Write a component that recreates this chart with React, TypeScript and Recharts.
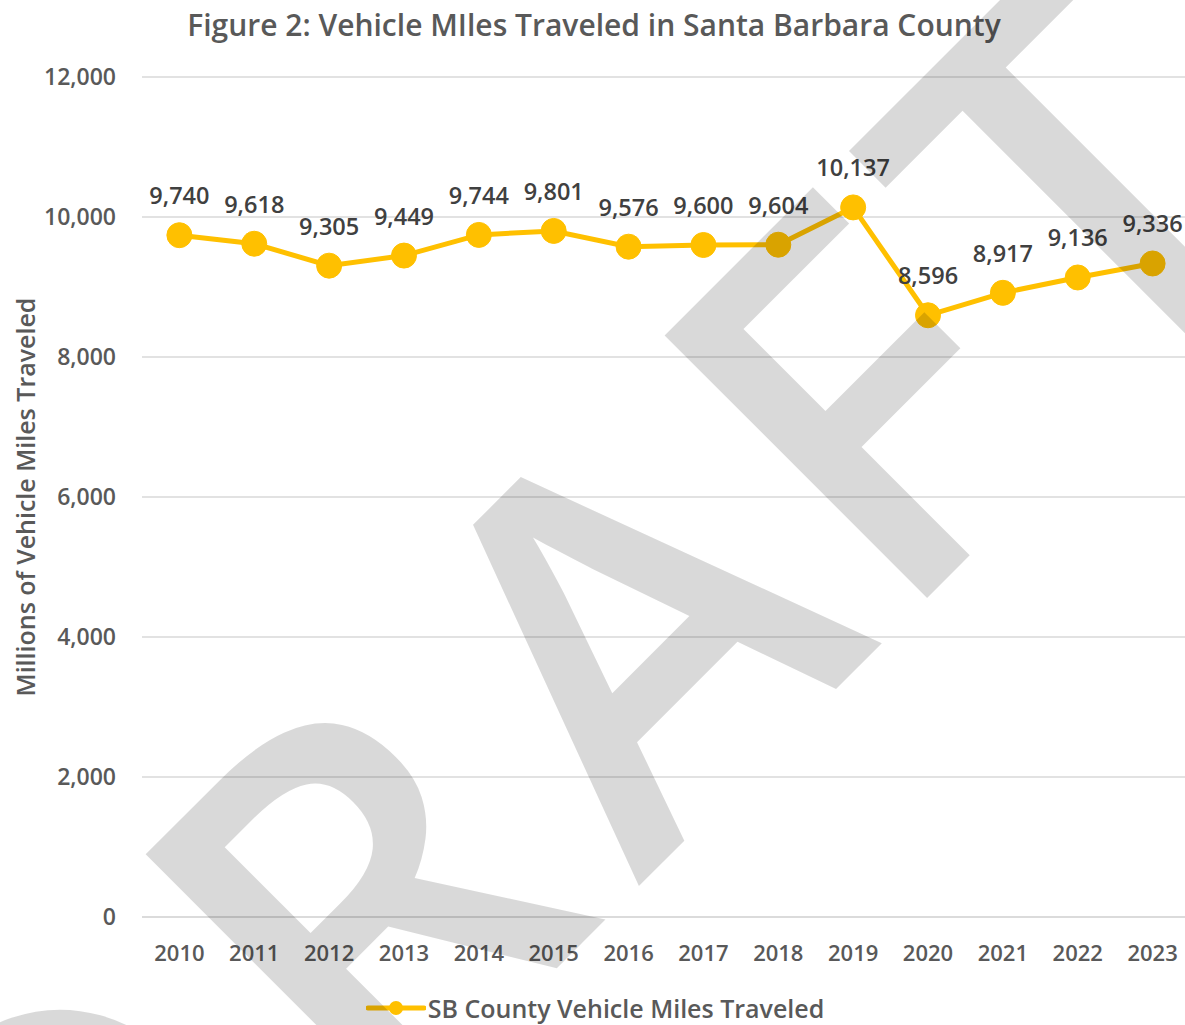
import React from "react";
import {
  CartesianGrid,
  LabelList,
  Legend,
  Line,
  LineChart,
  XAxis,
  YAxis
} from "recharts";

// Annual VMT, millions of miles
const years = ["2010", "2011", "2012", "2013", "2014", "2015", "2016", "2017", "2018", "2019", "2020", "2021", "2022", "2023"];
const vmt = [9740, 9618, 9305, 9449, 9744, 9801, 9576, 9600, 9604, 10137, 8596, 8917, 9136, 9336];
const yTicks = [0, 2000, 4000, 6000, 8000, 10000, 12000];

const FONT = "'Open Sans', 'Noto Sans', sans-serif";
const GOLD = "#FFC000";
const TEXT_GRAY = "#595959";

const data = years.map((year, i) => ({ year, vmt: vmt[i] }));

const fmt = (v: number) => v.toLocaleString("en-US");

function PointLabel(props: any) {
  const { x, y, value } = props;
  return (
    <text
      x={x}
      y={y - 31}
      textAnchor="middle"
      fill="#404040"
      fontSize={23.5}
      fontWeight={600}
      fontFamily={FONT}
    >
      {fmt(value)}
    </text>
  );
}

function LegendBox() {
  return (
    <div
      style={{
        position: "relative",
        top: 3,
        display: "flex",
        justifyContent: "center",
        alignItems: "center",
        height: 40,
        fontFamily: FONT,
        fontWeight: 600,
        fontSize: 25,
        color: TEXT_GRAY
      }}
    >
      <svg width={60} height={20} style={{ marginRight: 2 }}>
        <line x1={2} y1={10} x2={58} y2={10} stroke={GOLD} strokeWidth={5} strokeLinecap="round" />
        <circle cx={30} cy={10} r={7} fill={GOLD} />
      </svg>
      <span>SB County Vehicle Miles Traveled</span>
    </div>
  );
}

export default function App() {
  return (
    <div
      style={{
        position: "absolute",
        left: 0,
        top: 0,
        width: 1185,
        height: 1025,
        overflow: "hidden",
        background: "#fff"
      }}
    >
      <div
        style={{
          position: "absolute",
          top: 4,
          left: 0,
          width: 1188,
          textAlign: "center",
          fontFamily: FONT,
          fontWeight: 600,
          fontSize: 30,
          color: TEXT_GRAY
        }}
      >
        Figure 2: Vehicle MIles Traveled in Santa Barbara County
      </div>

      <LineChart
        width={1190}
        height={1025}
        data={data}
        margin={{ top: 77, right: 0, left: 0, bottom: 0 }}
      >
        <CartesianGrid vertical={false} stroke="#d9d9d9" strokeWidth={1.5} />
        <XAxis
          dataKey="year"
          axisLine={{ stroke: "#d9d9d9", strokeWidth: 1.5 }}
          tickLine={false}
          tickSize={0}
          tickMargin={28}
          height={68}
          interval={0}
          padding={{ left: 37.4, right: 37.4 }}
          tick={{ fill: TEXT_GRAY, fontSize: 22, fontWeight: 600, fontFamily: FONT }}
        />
        <YAxis
          width={142}
          domain={[0, 12000]}
          ticks={yTicks}
          axisLine={false}
          tickLine={false}
          tickSize={0}
          tickMargin={26}
          tickFormatter={fmt}
          tick={{ fill: TEXT_GRAY, fontSize: 23, fontWeight: 600, fontFamily: FONT }}
          label={{
            content: () => (
              <text
                transform="translate(25,497) rotate(-90)"
                textAnchor="middle"
                dominantBaseline="central"
                fill={TEXT_GRAY}
                fontSize={25}
                fontWeight={600}
                fontFamily={FONT}
              >
                Millions of Vehicle Miles Traveled
              </text>
            )
          }}
        />
        <Legend verticalAlign="bottom" content={() => <LegendBox />} wrapperStyle={{ height: 40 }} />
        <Line
          type="linear"
          dataKey="vmt"
          name="SB County Vehicle Miles Traveled"
          stroke={GOLD}
          strokeWidth={5}
          dot={{ r: 12.5, fill: GOLD, stroke: GOLD, strokeWidth: 1 }}
          activeDot={false}
          isAnimationActive={false}
        >
          <LabelList dataKey="vmt" content={<PointLabel />} />
        </Line>
      </LineChart>

      {/* DRAFT watermark laid over everything */}
      <svg
        width={1185}
        height={1025}
        style={{ position: "absolute", left: 0, top: 0, pointerEvents: "none" }}
      >
        <text
          transform="translate(762.5,762.5) rotate(-45)"
          x={-974}
          y={0}
          fontSize={520}
          fontWeight={600}
          letterSpacing={43}
          fontFamily={FONT}
          fill="rgba(0,0,0,0.15)"
        >
          <tspan>DRA</tspan>
          <tspan dx={-28}>F</tspan>
          <tspan dx={-18}>T</tspan>
        </text>
      </svg>
    </div>
  );
}
